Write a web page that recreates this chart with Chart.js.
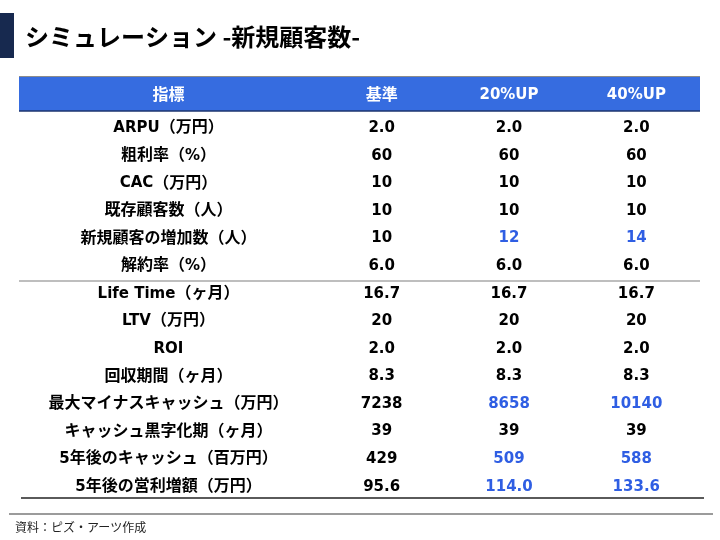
<!DOCTYPE html>
<html>
<head>
<meta charset="utf-8">
<script src="https://cdn.jsdelivr.net/npm/chart.js@4/dist/chart.umd.min.js"></script>
<style>
  html, body { margin: 0; padding: 0; background: #ffffff; }
  #c { display: block; }
</style>
</head>
<body>
<canvas id="c" width="720" height="540"></canvas>
<script>
// ---- data ----
const titleText = 'シミュレーション -新規顧客数-';
const sourceText = '資料：ピズ・アーツ作成';
const headerLabel = '指標';
const columns = ['基準', '20%UP', '40%UP'];
const rows = [
  'ARPU（万円）', '粗利率（%）', 'CAC（万円）', '既存顧客数（人）',
  '新規顧客の増加数（人）', '解約率（%）', 'Life Time（ヶ月）', 'LTV（万円）',
  'ROI', '回収期間（ヶ月）', '最大マイナスキャッシュ（万円）',
  'キャッシュ黒字化期（ヶ月）', '5年後のキャッシュ（百万円）', '5年後の営利増額（万円）'
];
const decimals = [1, 0, 0, 0, 0, 1, 1, 0, 1, 1, 0, 0, 0, 1];
const baseValues = [2.0, 60, 10, 10, 10, 6.0, 16.7, 20, 2.0, 8.3, 7238, 39, 429, 95.6];
const up20Values = [2.0, 60, 10, 10, 12, 6.0, 16.7, 20, 2.0, 8.3, 8658, 39, 509, 114.0];
const up40Values = [2.0, 60, 10, 10, 14, 6.0, 16.7, 20, 2.0, 8.3, 10140, 39, 588, 133.6];
const firstDerivedRow = 6; // rows from "Life Time" on are derived metrics

const seriesValues = [baseValues, up20Values, up40Values];

const LATIN_FONT = 'bold 15px "DejaVu Sans", "Noto Sans CJK JP", sans-serif';
const CJK_FONT = 'bold 16px "Noto Sans CJK JP", sans-serif';
const JP = '"Noto Sans CJK JP", sans-serif';
const BLUE_TEXT = '#2f5ee3';
const HEADER_BLUE = '#366ce0';
const TABLE_LEFT = 19;
const CJK_RE = /[\u3000-\u30ff\u3400-\u9fff\uff00-\uffef]/;

function splitRuns(text) {
  const runs = [];
  for (const ch of text) {
    const cjk = CJK_RE.test(ch);
    if (runs.length && runs[runs.length - 1].cjk === cjk) runs[runs.length - 1].t += ch;
    else runs.push({ t: ch, cjk });
  }
  return runs;
}

function drawMixed(ctx, text, cx, cy) {
  const runs = splitRuns(text);
  let total = 0;
  runs.forEach(r => {
    ctx.font = r.cjk ? CJK_FONT : LATIN_FONT;
    r.w = ctx.measureText(r.t).width;
    total += r.w;
  });
  let xPos = cx - total / 2;
  ctx.textAlign = 'left';
  ctx.textBaseline = 'middle';
  runs.forEach(r => {
    ctx.font = r.cjk ? CJK_FONT : LATIN_FONT;
    ctx.fillText(r.t, xPos, r.cjk ? cy - 1.5 : cy + 0.5);
    xPos += r.w;
  });
}

const tablePlugin = {
  id: 'tablePlugin',
  beforeDraw(chart) {
    const ctx = chart.ctx;
    const area = chart.chartArea;
    const x = chart.scales.x;
    const y = chart.scales.y;
    ctx.save();
    // title bar
    ctx.fillStyle = '#17294f';
    ctx.fillRect(0, 13, 14, 45);
    ctx.fillStyle = '#000000';
    ctx.font = 'bold 24px ' + JP;
    ctx.textAlign = 'left';
    ctx.textBaseline = 'middle';
    ctx.fillText(titleText, 25, 37);

    // header
    const hTop = 77, hBottom = area.top - 3;
    ctx.fillStyle = HEADER_BLUE;
    ctx.fillRect(TABLE_LEFT, hTop, area.right - TABLE_LEFT, hBottom - hTop);
    ctx.strokeStyle = '#8c8c8c';
    ctx.lineWidth = 1.2;
    ctx.beginPath(); ctx.moveTo(TABLE_LEFT, hTop - 0.5); ctx.lineTo(area.right, hTop - 0.5); ctx.stroke();
    ctx.strokeStyle = '#1c356e';
    ctx.lineWidth = 1.5;
    ctx.beginPath(); ctx.moveTo(TABLE_LEFT, hBottom); ctx.lineTo(area.right, hBottom); ctx.stroke();

    const labelX = (TABLE_LEFT + area.left) / 2;
    const headY = (hTop + hBottom) / 2 + 1;
    ctx.fillStyle = '#ffffff';
    drawMixed(ctx, headerLabel, labelX, headY);
    columns.forEach((c, i) => drawMixed(ctx, c, x.getPixelForValue(i), headY));

    // row labels
    ctx.fillStyle = '#000000';
    rows.forEach((r, i) => drawMixed(ctx, r, labelX, y.getPixelForValue(i)));

    // separator between input and derived rows
    const sepY = Math.round(y.getPixelForValue(firstDerivedRow - 0.5)) + 2;
    ctx.strokeStyle = '#a8a8a8';
    ctx.lineWidth = 1.5;
    ctx.beginPath(); ctx.moveTo(TABLE_LEFT, sepY); ctx.lineTo(area.right, sepY); ctx.stroke();

    // table bottom line
    ctx.strokeStyle = '#5a5a5a';
    ctx.lineWidth = 1.8;
    ctx.beginPath(); ctx.moveTo(TABLE_LEFT + 2, area.bottom - 2); ctx.lineTo(area.right + 4, area.bottom - 2); ctx.stroke();

    // footer line + source
    ctx.strokeStyle = '#7a7a7a';
    ctx.lineWidth = 1.5;
    ctx.beginPath(); ctx.moveTo(9, 514); ctx.lineTo(713, 514); ctx.stroke();
    ctx.fillStyle = '#222222';
    ctx.font = '12px ' + JP;
    ctx.textAlign = 'left';
    ctx.textBaseline = 'middle';
    ctx.fillText(sourceText, 15, 527);
    ctx.restore();
  },
  afterDatasetsDraw(chart) {
    const ctx = chart.ctx;
    ctx.save();
    ctx.font = LATIN_FONT;
    ctx.textAlign = 'center';
    ctx.textBaseline = 'middle';
    chart.data.datasets.forEach((ds, di) => {
      const meta = chart.getDatasetMeta(di);
      const vals = seriesValues[di];
      meta.data.forEach((pt, i) => {
        const v = vals[i];
        ctx.fillStyle = (v !== baseValues[i]) ? BLUE_TEXT : '#000000';
        ctx.fillText(v.toFixed(decimals[i]), pt.x, pt.y + 0.5);
      });
    });
    ctx.restore();
  }
};

new Chart(document.getElementById('c'), {
  type: 'scatter',
  data: {
    datasets: columns.map((c) => ({
      label: c,
      data: rows.map((r) => ({ x: c, y: r })),
      pointRadius: 0,
      pointHoverRadius: 0
    }))
  },
  options: {
    responsive: false,
    animation: false,
    devicePixelRatio: 1,
    events: [],
    layout: { padding: { left: 318, right: 20, top: 114, bottom: 40 } },
    plugins: { legend: { display: false }, tooltip: { enabled: false } },
    scales: {
      x: { type: 'category', labels: columns, offset: true, display: false },
      y: { type: 'category', labels: rows, offset: true, display: false }
    }
  },
  plugins: [tablePlugin]
});
</script>
</body>
</html>
